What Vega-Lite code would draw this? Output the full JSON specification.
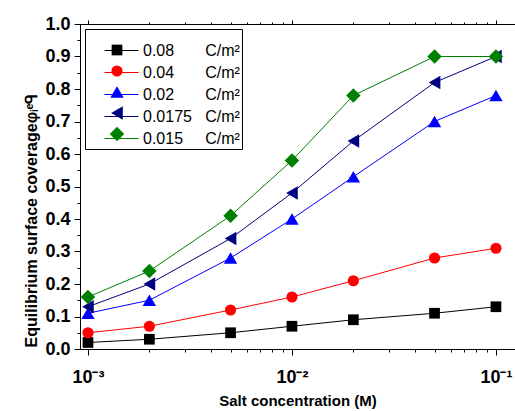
{
  "$schema": "https://vega.github.io/schema/vega-lite/v6.json",
  "width": 435,
  "height": 325,
  "autosize": {"type": "none"},
  "padding": {"left": 80, "top": 24, "right": 0, "bottom": 62},
  "background": "white",
  "config": {
    "font": "Liberation Sans",
    "view": {"stroke": "black", "strokeWidth": 1},
    "axis": {"grid": false, "domainColor": "black", "tickColor": "black", "labelColor": "black", "titleColor": "black", "domainWidth": 1, "tickWidth": 1}
  },
  "data": {
    "values": [
      {"conc": 0.001, "coverage": 0.02, "sigma": "0.08", "series": "0.08"},
      {"conc": 0.002, "coverage": 0.03, "sigma": "0.08", "series": "0.08"},
      {"conc": 0.005, "coverage": 0.05, "sigma": "0.08", "series": "0.08"},
      {"conc": 0.01, "coverage": 0.07, "sigma": "0.08", "series": "0.08"},
      {"conc": 0.02, "coverage": 0.09, "sigma": "0.08", "series": "0.08"},
      {"conc": 0.05, "coverage": 0.11, "sigma": "0.08", "series": "0.08"},
      {"conc": 0.1, "coverage": 0.13, "sigma": "0.08", "series": "0.08"},
      {"conc": 0.001, "coverage": 0.05, "sigma": "0.04", "series": "0.04"},
      {"conc": 0.002, "coverage": 0.07, "sigma": "0.04", "series": "0.04"},
      {"conc": 0.005, "coverage": 0.12, "sigma": "0.04", "series": "0.04"},
      {"conc": 0.01, "coverage": 0.16, "sigma": "0.04", "series": "0.04"},
      {"conc": 0.02, "coverage": 0.21, "sigma": "0.04", "series": "0.04"},
      {"conc": 0.05, "coverage": 0.28, "sigma": "0.04", "series": "0.04"},
      {"conc": 0.1, "coverage": 0.31, "sigma": "0.04", "series": "0.04"},
      {"conc": 0.001, "coverage": 0.11, "sigma": "0.02", "series": "0.02"},
      {"conc": 0.002, "coverage": 0.15, "sigma": "0.02", "series": "0.02"},
      {"conc": 0.005, "coverage": 0.28, "sigma": "0.02", "series": "0.02"},
      {"conc": 0.01, "coverage": 0.40, "sigma": "0.02", "series": "0.02"},
      {"conc": 0.02, "coverage": 0.53, "sigma": "0.02", "series": "0.02"},
      {"conc": 0.05, "coverage": 0.70, "sigma": "0.02", "series": "0.02"},
      {"conc": 0.1, "coverage": 0.78, "sigma": "0.02", "series": "0.02"},
      {"conc": 0.001, "coverage": 0.13, "sigma": "0.0175", "series": "0.0175"},
      {"conc": 0.002, "coverage": 0.20, "sigma": "0.0175", "series": "0.0175"},
      {"conc": 0.005, "coverage": 0.34, "sigma": "0.0175", "series": "0.0175"},
      {"conc": 0.01, "coverage": 0.48, "sigma": "0.0175", "series": "0.0175"},
      {"conc": 0.02, "coverage": 0.64, "sigma": "0.0175", "series": "0.0175"},
      {"conc": 0.05, "coverage": 0.82, "sigma": "0.0175", "series": "0.0175"},
      {"conc": 0.1, "coverage": 0.90, "sigma": "0.0175", "series": "0.0175"},
      {"conc": 0.001, "coverage": 0.16, "sigma": "0.015", "series": "0.015"},
      {"conc": 0.002, "coverage": 0.24, "sigma": "0.015", "series": "0.015"},
      {"conc": 0.005, "coverage": 0.41, "sigma": "0.015", "series": "0.015"},
      {"conc": 0.01, "coverage": 0.58, "sigma": "0.015", "series": "0.015"},
      {"conc": 0.02, "coverage": 0.78, "sigma": "0.015", "series": "0.015"},
      {"conc": 0.05, "coverage": 0.90, "sigma": "0.015", "series": "0.015"},
      {"conc": 0.1, "coverage": 0.90, "sigma": "0.015", "series": "0.015"}
    ]
  },
  "encoding": {
    "y": {
      "field": "coverage",
      "type": "quantitative",
      "scale": {"domain": [0, 1], "nice": false, "zero": false},
      "axis": {
        "orient": "left",
        "title": "Equilibrium surface coverageφᵢᵉᑫ",
        "titleFont": "Liberation Sans",
        "titleFontSize": 16,
        "titleFontWeight": "bold",
        "titlePadding": 5,
        "titleY": 196,
        "values": [0, 0.05, 0.1, 0.15, 0.2, 0.25, 0.3, 0.35, 0.4, 0.45, 0.5, 0.55, 0.6, 0.65, 0.7, 0.75, 0.8, 0.85, 0.9, 0.95, 1.0],
        "labelExpr": "abs(datum.value*10 - round(datum.value*10)) < 0.000001 ? format(datum.value, '.1f') : ''",
        "tickSize": {"condition": {"test": "abs(datum.value*10 - round(datum.value*10)) < 0.000001", "value": 6}, "value": 3},
        "labelFontSize": 18,
        "labelFontWeight": "bold",
        "labelPadding": 4,
        "labelOverlap": false,
        "labelFlush": false,
        "labelBound": false
      }
    }
  },
  "layer": [
    {
      "mark": {"type": "line", "strokeWidth": 1},
      "encoding": {
        "x": {
          "field": "conc",
          "type": "quantitative",
          "scale": {"type": "log", "domain": [0.000914, 0.124], "nice": false},
          "axis": {
            "orient": "bottom",
            "title": "Salt concentration (M)",
            "titleFontSize": 15,
            "titleFontWeight": "bold",
            "titlePadding": 7,
            "values": [0.001, 0.002, 0.003, 0.004, 0.005, 0.006, 0.007, 0.008, 0.009, 0.01, 0.02, 0.03, 0.04, 0.05, 0.06, 0.07, 0.08, 0.09, 0.1],
            "labelExpr": "abs(log(datum.value)/LN10 - round(log(datum.value)/LN10)) < 0.000001 ? '10' + (round(log(datum.value)/LN10) == -3 ? '⁻³' : round(log(datum.value)/LN10) == -2 ? '⁻²' : '⁻¹') : ''",
            "tickSize": {"condition": {"test": "abs(log(datum.value)/LN10 - round(log(datum.value)/LN10)) < 0.000001", "value": 6}, "value": 3},
            "labelFontSize": 18,
            "labelFontWeight": "bold",
            "labelPadding": 13,
            "labelOverlap": false,
            "labelFlush": false,
            "labelBound": false
          }
        },
        "color": {
          "field": "sigma",
          "type": "nominal",
          "sort": "descending",
          "scale": {"range": ["#000000", "#ff0000", "#0000ff", "#000080", "#008000"]},
          "legend": {
            "orient": "none",
            "legendX": 5,
            "legendY": 5,
            "title": "\u00a0",
            "titleFontSize": 8,
            "titlePadding": 3,
            "padding": 2,
            "strokeColor": "black",
            "fillColor": "white",
            "symbolType": "M-2.125,0H2.125",
            "symbolSize": 256,
            "symbolStrokeWidth": 1,
            "symbolOffset": 26,
            "labelOffset": 13,
            "labelFontSize": 16,
            "labelColor": "black",
            "rowPadding": 5,
            "labelExpr": "datum.label + (datum.label == '0.0175' ? '\u00a0\u00a0\u00a0C/m²' : datum.label == '0.015' ? '\u00a0\u00a0\u00a0\u00a0\u00a0C/m²' : '\u00a0\u00a0\u00a0\u00a0\u00a0\u00a0\u00a0C/m²')"
          }
        }
      }
    },
    {
      "mark": {"type": "point", "filled": true, "opacity": 1, "strokeWidth": 0},
      "encoding": {
        "x": {
          "field": "conc",
          "type": "quantitative",
          "scale": {"type": "log", "domain": [0.000914, 0.124], "nice": false},
          "axis": {
            "orient": "top",
            "title": null,
            "values": [0.001, 0.002, 0.003, 0.004, 0.005, 0.006, 0.007, 0.008, 0.009, 0.01, 0.02, 0.03, 0.04, 0.05, 0.06, 0.07, 0.08, 0.09, 0.1],
            "labels": false,
            "tickSize": {"condition": {"test": "abs(log(datum.value)/LN10 - round(log(datum.value)/LN10)) < 0.000001", "value": 4}, "value": 2}
          }
        },
        "shape": {
          "field": "series",
          "type": "nominal",
          "sort": "descending",
          "scale": {"range": ["square", "circle", "triangle-up", "triangle-left", "diamond"]},
          "legend": {
            "orient": "none",
            "legendX": 5,
            "legendY": 5,
            "zindex": 2,
            "title": "\u00a0",
            "titleFontSize": 8,
            "titlePadding": 3,
            "padding": 2,
            "symbolStrokeWidth": 0,
            "symbolOffset": 22,
            "labelOffset": 13,
            "labelFontSize": 16,
            "labelOpacity": 0,
            "rowPadding": 5
          }
        },
        "size": {
          "field": "series",
          "type": "ordinal",
          "sort": "descending",
          "scale": {"type": "ordinal", "range": [115, 125, 180, 180, 210]},
          "legend": {
            "orient": "none",
            "legendX": 5,
            "legendY": 5,
            "zindex": 2,
            "title": "\u00a0",
            "titleFontSize": 8,
            "titlePadding": 3,
            "padding": 2,
            "symbolStrokeWidth": 0,
            "symbolOffset": 22,
            "labelOffset": 13,
            "labelFontSize": 16,
            "labelOpacity": 0,
            "rowPadding": 5
          }
        },
        "fill": {
          "field": "series",
          "type": "nominal",
          "sort": "descending",
          "scale": {"range": ["#000000", "#ff0000", "#0000ff", "#000080", "#008000"]},
          "legend": {
            "orient": "none",
            "legendX": 5,
            "legendY": 5,
            "zindex": 2,
            "title": "\u00a0",
            "titleFontSize": 8,
            "titlePadding": 3,
            "padding": 2,
            "symbolStrokeWidth": 0,
            "symbolOffset": 22,
            "labelOffset": 13,
            "labelFontSize": 16,
            "labelOpacity": 0,
            "rowPadding": 5
          }
        }
      }
    }
  ],
  "resolve": {"axis": {"x": "independent"}}
}
